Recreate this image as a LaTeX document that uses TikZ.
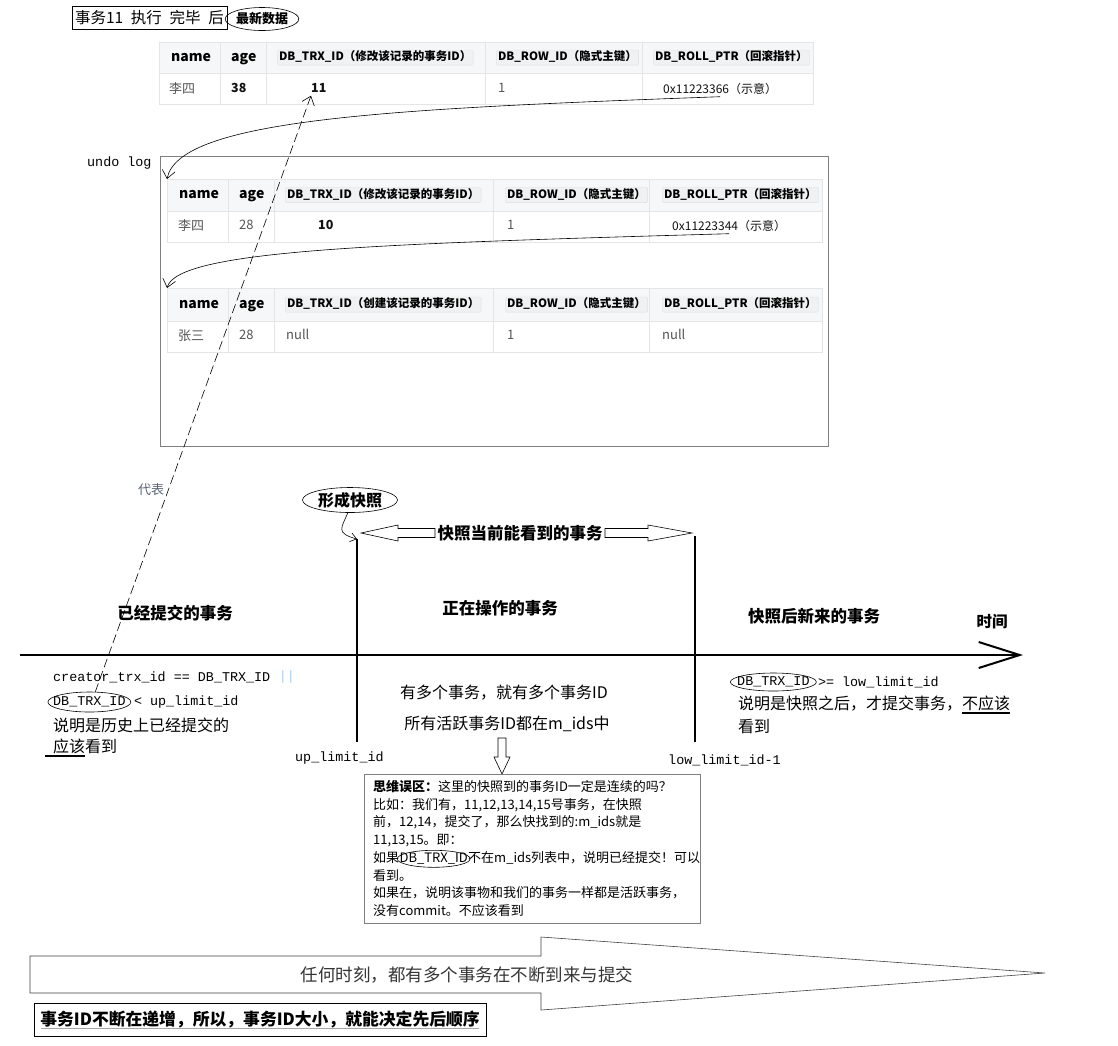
\documentclass[tikz,border=0pt]{standalone}
\usepackage{fontspec}
\setmainfont{Noto Sans CJK SC}
\newfontfamily\codefont{Liberation Mono}
\usepackage{tikz}
\usetikzlibrary{arrows.meta,positioning,calc,shapes.geometric}
\definecolor{ink}{HTML}{111111}
\definecolor{soft}{HTML}{555555}
\definecolor{cellline}{HTML}{E3E5E7}
\definecolor{headbg}{HTML}{F6F7F8}
\definecolor{tagbg}{HTML}{F0F1F2}
\definecolor{tagline}{HTML}{DDDFE1}
\definecolor{frame}{HTML}{808080}
\definecolor{pipe}{HTML}{A8CBEA}
\definecolor{remark}{HTML}{5A6477}
\newcommand\thickul[2][0pt]{\setbox0=\hbox{#2}\rlap{\kern-#1\rule[-4pt]{\dimexpr\wd0+#1\relax}{1.5pt}}\box0}

\begin{document}
\begin{tikzpicture}[x=1pt, y=-1pt,
  font=\fontsize{16}{19}\selectfont,
  tbl/.style={draw=cellline, line width=0.8pt},
  hd/.style={anchor=west, inner sep=0, text height=10pt, text depth=3pt,
             font=\fontsize{14}{16}\selectfont\bfseries},
  tag/.style={anchor=west, draw=tagline, fill=tagbg, rounded corners=1.5pt, inner sep=1.8pt,
              text height=9pt, text depth=2.5pt, font=\fontsize{11.5}{13}\selectfont\bfseries},
  cell/.style={anchor=west, inner sep=0, text height=10pt, text depth=3pt, text=soft,
               font=\fontsize{13}{15}\selectfont},
  val/.style={cell, text=ink, font=\fontsize{12.5}{15}\selectfont\bfseries},
  ptr/.style={cell, text=ink, font=\fontsize{12}{15}\selectfont},
  oval/.style={ellipse, draw, line width=0.6pt, inner sep=0},
  link/.style={line width=0.6pt, -{Straight Barb[length=8pt,width=13pt]}},
  rep/.style={link, dash pattern=on 9pt off 4pt},
  code/.style={anchor=west, inner sep=0, font=\codefont\fontsize{13.4}{16}\selectfont},
  txt/.style={anchor=west, inner sep=0},
  ttl/.style={inner sep=0, font=\fontsize{16.5}{19}\selectfont\bfseries},
  bar/.style={line width=2pt},
  blk/.style={draw, line width=0.6pt, fill=white},
  memo/.style={anchor=west, inner sep=0, text height=10pt, text depth=3pt, font=\fontsize{13}{16}\selectfont}
]
\fill[white] (0,0) rectangle (1118,1045);
\useasboundingbox (0,0) rectangle (1118,1045);

% ---- latest row ---------------------------------------------------------
\node[draw, line width=0.8pt, minimum width=155pt, minimum height=23pt, inner sep=0,
      font=\fontsize{15.5}{18}\selectfont] (stage) at (149.5,17.5)
      {事务11\enspace 执行\enspace 完毕\enspace 后};
\node[oval, minimum width=68pt, minimum height=23pt, font=\fontsize{13}{15}\selectfont\bfseries]
      (latest) at (262,19) {最新数据};

\begin{scope}[shift={(159,42)}]
  \fill[headbg] (0,0) rectangle (654,31);
  \draw[tbl] (0,0) rectangle (654,62) (0,31) -- (654,31);
  \foreach \c in {61,107,326,483} \draw[tbl] (\c,0) -- (\c,62);
  \node[hd]  at (12,15.5)  {name};
  \node[hd]  at (72,15.5)  {age};
  \node[tag] at (118,15.5) {DB\_TRX\_ID（修改该记录的事务ID）};
  \node[tag] at (337,15.5) {DB\_ROW\_ID（隐式主键）};
  \node[tag] at (494,15.5) {DB\_ROLL\_PTR（回滚指针）};
  \node[cell] at (10,48)  {李四};
  \node[val]  at (72,47)  {38};
  \node[val]  (trx11) at (152,47) {11};
  \node[cell] at (339,47) {1};
  \node[ptr]  (ptr66) at (504,48) {0x11223366（示意）};
\end{scope}

% ---- undo log -----------------------------------------------------------
\node[code] (undo) at (87,163) {undo log};
\draw[frame, line width=1pt] (160,156) rectangle (828,446);

\begin{scope}[shift={(167,179)}]
  \coordinate (tb2) at (0,0);
  \fill[headbg] (0,0) rectangle (655,32);
  \draw[tbl] (0,0) rectangle (655,63) (0,32) -- (655,32);
  \foreach \c in {61,107,326,482} \draw[tbl] (\c,0) -- (\c,63);
  \node[hd]  at (12,16)  {name};
  \node[hd]  at (72,16)  {age};
  \node[tag] at (118,16) {DB\_TRX\_ID（修改该记录的事务ID）};
  \node[tag] at (338,16) {DB\_ROW\_ID（隐式主键）};
  \node[tag] at (495,16) {DB\_ROLL\_PTR（回滚指针）};
  \node[cell] at (11,48)  {李四};
  \node[cell] at (72,47)  {28};
  \node[val]  (trx10) at (151,47) {10};
  \node[cell] at (340,47) {1};
  \node[ptr]  (ptr44) at (505,48) {0x11223344（示意）};
\end{scope}

\begin{scope}[shift={(167,288)}]
  \coordinate (tb3) at (0,0);
  \fill[headbg] (0,0) rectangle (655,33);
  \draw[tbl] (0,0) rectangle (655,64) (0,33) -- (655,33);
  \foreach \c in {61,107,326,482} \draw[tbl] (\c,0) -- (\c,64);
  \node[hd]  at (12,16.5)  {name};
  \node[hd]  at (72,16.5)  {age};
  \node[tag] at (118,16.5) {DB\_TRX\_ID（创建该记录的事务ID）};
  \node[tag] at (338,16.5) {DB\_ROW\_ID（隐式主键）};
  \node[tag] at (495,16.5) {DB\_ROLL\_PTR（回滚指针）};
  \node[cell] at (11,49)  {张三};
  \node[cell] at (72,48)  {28};
  \node[cell] at (119,48) {null};
  \node[cell] at (340,48) {1};
  \node[cell] at (495,48) {null};
\end{scope}

\draw[link] (ptr66.south) .. controls +(-330,12) and +(12,-60) .. (tb2);
\draw[link] (ptr44.south) .. controls +(-350,10) and +(10,-38) .. (tb3);

% ---- time line ----------------------------------------------------------
\coordinate (t0) at (20,655);
\coordinate (t1) at (1023,655);
\draw[bar, -{Straight Barb[length=41pt,width=26pt]}] (t0) -- (t1);
\node[ttl, font=\fontsize{15.5}{18}\selectfont\bfseries] (time) at (992,622) {时间};

\coordinate (snapL)  at (357,539);
\coordinate (snapLb) at (357,742);
\coordinate (snapR)  at (695,536);
\coordinate (snapRb) at (695,742);
\draw[bar] (snapL) -- (snapLb);
\draw[bar] (snapR) -- (snapRb);

\node[oval, minimum width=95pt, minimum height=25pt, font=\fontsize{16}{18}\selectfont\bfseries]
      (snap) at (350,500) {形成快照};
\draw[line width=0.6pt, -{Straight Barb[length=6pt,width=9pt]}]
      (snap.-100) .. controls +(-6,15) and +(-22,-6) .. (snapL);

\node[ttl] (seen) at (520,533) {快照当前能看到的事务};
\draw[blk] (361,533) -- (398,525) -- (398,528.5) -- (435,528.5) -- (435,537.5)
           -- (398,537.5) -- (398,541) -- cycle;
\draw[blk] (692,533) -- (648,525) -- (648,528.5) -- (605,528.5) -- (605,537.5)
           -- (648,537.5) -- (648,541) -- cycle;

\node[ttl] (done) at (175,613) {已经提交的事务};
\node[ttl] (busy) at (500,608) {正在操作的事务};
\node[ttl] (late) at (814,616) {快照后新来的事务};

% ---- committed side -----------------------------------------------------
\node[code] (c1)  at (53,677) {creator\_trx\_id == DB\_TRX\_ID};
\node[code, text=pipe] (c1p) [right=0pt of c1] {\ ||};
\node[code] (c2a) at (53,702) {DB\_TRX\_ID};
\node[code] (c2b) [right=0pt of c2a] {\ < up\_limit\_id};
\node[oval, minimum width=83pt, minimum height=20pt] (o1) at (c2a) {};
\node[txt] (c3) at (53,725) {说明是历史上已经提交的};
\node[txt] (c4) at (53,748) {\thickul[8pt]{应该}看到};
\node[code] (up) at (295,758) {up\_limit\_id};

% ---- active side --------------------------------------------------------
\node[inner sep=0] (m1) at (504,693) {有多个事务，就有多个事务ID};
\node[inner sep=0] (m2) at (507,724) {所有活跃事务ID都在m\_ids中};
\draw[blk] (498,738) -- (506,738) -- (506,757) -- (510,757) -- (502,774)
           -- (494,757) -- (498,757) -- cycle;
\node[code] (low) at (668,760) {low\_limit\_id-1};

\node[draw=frame, line width=1pt, anchor=north west, minimum width=336pt, minimum height=149pt,
      inner sep=0] (memo) at (364,774) {};
\node[memo] (n1) at (373,788) {\textbf{思维误区：}这里的快照到的事务ID一定是连续的吗？};
\node[memo] (n2) at (373,805.7) {比如：我们有，11,12,13,14,15号事务，在快照};
\node[memo] (n3) at (373,823.4) {前，12,14，提交了，那么快找到的:m\_ids就是};
\node[memo] (n4) at (373,841.1) {11,13,15。即：};
\node[memo] (n5a) at (373,858.8) {如果};
\node[memo] (n5b) [right=0pt of n5a] {DB\_TRX\_ID};
\node[memo] (n5c) [right=0pt of n5b] {不在m\_ids列表中，说明已经提交！可以};
\node[oval, minimum width=73pt, minimum height=17pt] (o3) at (n5b) {};
\node[memo] (n6) at (373,876.5) {看到。};
\node[memo] (n7) at (373,894.2) {如果在，说明该事物和我们的事务一样都是活跃事务，};
\node[memo] (n8) at (373,911.9) {没有commit。不应该看到};

% ---- new side -----------------------------------------------------------
\node[code] (r1a) at (737,682) {DB\_TRX\_ID};
\node[code] (r1b) [right=0pt of r1a] {\ >= low\_limit\_id};
\node[oval, minimum width=86pt, minimum height=18pt] (o2) at (r1a) {};
\node[txt] (r2) at (738,705) {说明是快照之后，才提交事务，\thickul{不应该}};
\node[txt] (r3) at (738,726) {看到};

% ---- represents ---------------------------------------------------------
\draw[rep] (o1.60) -- (trx11.south west);
\node[text=remark, font=\fontsize{13}{15}\selectfont] (rep) at (151,490) {代表};

% ---- bottom -------------------------------------------------------------
\draw[blk, draw=ink!80] (30,956) -- (541,956) -- (541,937) -- (1045,973) -- (541,1010)
           -- (541,993) -- (30,993) -- cycle;
\node[inner sep=0, text=ink!85, font=\fontsize{17.5}{20}\selectfont] (always) at (467,975)
      {任何时刻，都有多个事务在不断到来与提交};
\node[draw, line width=0.9pt, minimum width=452pt, minimum height=33pt, inner sep=0,
      font=\fontsize{16.8}{19}\selectfont\bfseries] (order) at (260,1019.5)
      {事务ID不断在递增，所以，事务ID大小，就能决定先后顺序};
\draw[line width=1pt, frame!70] (41,1028) -- (479,1028);

\end{tikzpicture}
\end{document}
